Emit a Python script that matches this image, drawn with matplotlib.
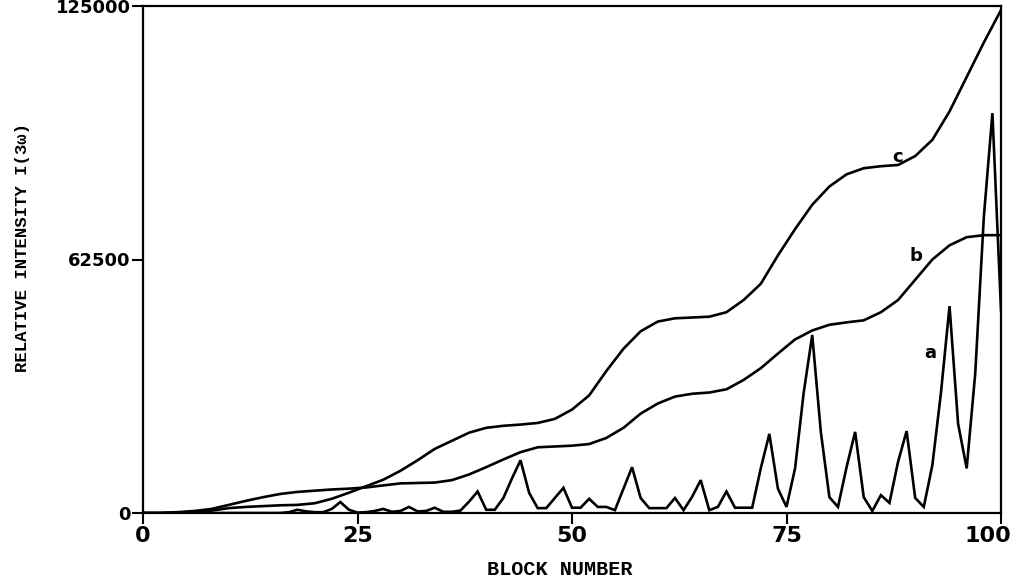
import matplotlib
matplotlib.use("Agg")
import matplotlib.pyplot as plt
import matplotlib.transforms as mtransforms

# ---- data ----
a_x = list(range(0, 101))
a_y = [0]*17 + [
    200, 800, 400, 200, 200, 1000, 2700, 800, 100, 200,      # 17-26
    500, 1000, 300, 500, 1500, 400, 500, 1300, 300, 300,     # 27-36
    600, 2800, 5300, 800, 800, 3700, 8500, 13000, 5000, 1200, # 37-46
    1200, 3700, 6200, 1300, 1300, 3500, 1500, 1500, 700, 6000, # 47-56
    11300, 3700, 1200, 1200, 1200, 3700, 700, 4000, 8100, 700, # 57-66
    1500, 5300, 1300, 1300, 1300, 11000, 19500, 6000, 1500, 11000, # 67-76
    29600, 43900, 20000, 3900, 1500, 11300, 20000, 3900, 500, 4400, # 77-86
    2500, 12600, 20200, 3700, 1500, 11800, 29600, 51000, 22000, 11000, # 87-96
    34500, 73000, 98600, 50000]                                # 97-100

bc_x = list(range(0, 101, 2))
b_y = [0, 0, 200, 500, 1000, 2000, 3000, 3900, 4700, 5200,
       5500, 5800, 6000, 6300, 6800, 7300, 7400, 7500, 8100, 9500,
       11300, 13200, 15000, 16200, 16400, 16600, 17000, 18500, 21000, 24500,
       27000, 28700, 29400, 29700, 30500, 32800, 35700, 39300, 42800, 45000,
       46400, 47000, 47500, 49500, 52500, 57500, 62500, 66000, 68000, 68500,
       68500]
c_y = [0, 0, 100, 300, 600, 1200, 1500, 1700, 1900, 2000,
       2400, 3500, 5000, 6600, 8200, 10400, 13000, 15800, 17800, 19800,
       21000, 21500, 21800, 22200, 23200, 25500, 29000, 35000, 40500, 44800,
       47200, 48000, 48200, 48400, 49500, 52500, 56500, 63500, 70000, 76000,
       80500, 83500, 85000, 85500, 85800, 88000, 92000, 99000, 107500, 116000,
       124000]

curve_labels = ["c", "b", "a"]
label_pos = [(87.9, 87800), (90.1, 63400), (91.7, 39400)]

x_ticks = [0, 25, 50, 75, 100]
y_ticks = [0, 62500, 125000]

# ---- figure ----
fig = plt.figure(figsize=(10.11, 5.85), dpi=100)
ax = fig.add_axes([143/1011, 1-513/585, (1001-143)/1011, (513-6)/585])

lw = 1.9
ax.plot(a_x, a_y, color="black", lw=lw, solid_joinstyle="miter")
ax.plot(bc_x, b_y, color="black", lw=lw, solid_joinstyle="round")
ax.plot(bc_x, c_y, color="black", lw=lw, solid_joinstyle="round")

for t, (lx, ly) in zip(curve_labels, label_pos):
    ax.text(lx, ly, t, fontsize=13, fontweight="bold", family="DejaVu Sans",
            ha="center", va="center")

ax.set_xlim(0, 100)
ax.set_ylim(0, 125000)
ax.set_xticks(x_ticks)
ax.set_xticklabels([str(v) for v in x_ticks], fontsize=16, fontweight="bold",
                   family="DejaVu Sans")
ax.set_yticks(y_ticks)
ax.set_yticklabels([str(v) for v in y_ticks], fontsize=13, fontweight="bold",
                   family="DejaVu Sans")
ax.tick_params(direction="out", length=8, width=1.5, pad=1)
for s in ax.spines.values():
    s.set_linewidth(1.6)

# last x tick label sits at the right edge, as in the reference
last = ax.get_xticklabels()[-1]
last.set_horizontalalignment("right")
last.set_transform(last.get_transform() +
                   mtransforms.ScaledTranslation(10/100, 0, fig.dpi_scale_trans))

ax.set_xlabel("BLOCK NUMBER", family="Liberation Mono", fontsize=14.5,
              fontweight="bold")
ax.xaxis.set_label_coords((560-143)/858, (513-560)/507)
ax.set_ylabel("RELATIVE INTENSITY I(3ω)", family="Liberation Mono",
              fontsize=12.5, fontweight="bold")
ax.yaxis.set_label_coords((30-143)/858, (513-248)/507)

fig.savefig("out.png", dpi=100)
